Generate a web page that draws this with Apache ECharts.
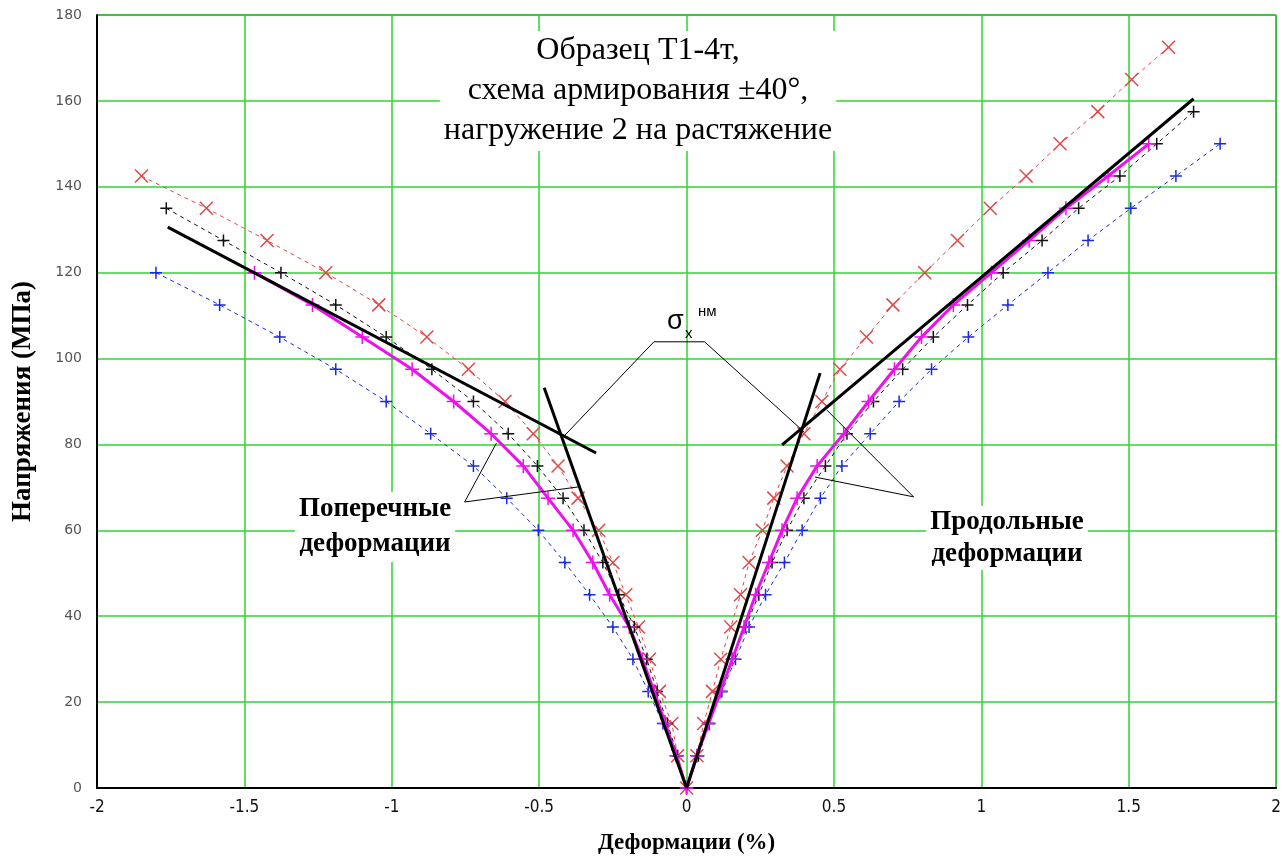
<!DOCTYPE html>
<html><head><meta charset="utf-8">
<script src="https://cdn.jsdelivr.net/npm/echarts@6/dist/echarts.min.js"></script>
<style>html,body{margin:0;padding:0;background:#fff}#c{width:1284px;height:866px}</style>
</head><body><div id="c"></div><script>
// Stress levels (MPa) shared by all measured series, from origin outward
const stress = [7.5,15,22.5,30,37.5,45,52.5,60,67.5,75,82.5,90,97.5,105,112.5,120,127.5,135,142.5,150,157.5,165,172.5];

// Red (x markers) strains, %
const redLeft  = [-0.03,-0.05,-0.092,-0.126,-0.163,-0.206,-0.25,-0.298,-0.368,-0.436,-0.52,-0.616,-0.74,-0.881,-1.044,-1.224,-1.423,-1.629,-1.849];
const redRight = [0.035,0.058,0.088,0.116,0.15,0.183,0.212,0.257,0.296,0.341,0.398,0.459,0.52,0.61,0.70,0.808,0.919,1.03,1.152,1.267,1.395,1.51,1.635];
// Black (+ markers)
const blackLeft  = [-0.03,-0.065,-0.1,-0.135,-0.177,-0.23,-0.284,-0.348,-0.419,-0.506,-0.605,-0.723,-0.864,-1.019,-1.19,-1.376,-1.571,-1.765];
const blackRight = [0.04,0.077,0.116,0.155,0.2,0.245,0.29,0.341,0.398,0.471,0.544,0.634,0.733,0.837,0.953,1.074,1.206,1.33,1.47,1.595,1.72];
// Blue (+ markers)
const blueLeft  = [-0.035,-0.08,-0.13,-0.182,-0.25,-0.329,-0.413,-0.503,-0.61,-0.723,-0.868,-1.019,-1.19,-1.38,-1.584,-1.80];
const blueRight = [0.035,0.075,0.12,0.166,0.212,0.268,0.332,0.392,0.454,0.527,0.623,0.721,0.831,0.956,1.09,1.226,1.362,1.507,1.66,1.81];
// Magenta (mean curve)
const magLeft  = [-0.035,-0.072,-0.11,-0.15,-0.194,-0.261,-0.318,-0.385,-0.47,-0.554,-0.663,-0.79,-0.931,-1.10,-1.269,-1.466];
const magRight = [0.035,0.075,0.115,0.155,0.195,0.234,0.279,0.324,0.375,0.443,0.533,0.617,0.705,0.797,0.905,1.034,1.162,1.287,1.43,1.568];

// Tangent (fit) lines [strain, stress]
const tanLeftUpper  = [[-1.76,130.6],[-0.307,78]];
const tanLeftSteep  = [[-0.483,93.2],[0,0]];
const tanRightSteep = [[0,0],[0.453,96.6]];
const tanRightUpper = [[0.324,79.9],[1.72,160.5]];

// Annotation leader lines [strain, stress]
const sigmaLeader = [[-0.419,81.7],[-0.111,103.9],[0.061,103.9],[0.399,82.9]];
const transLeaderA = [[-0.645,80.3],[-0.753,66.6],[-0.368,70.1]];
const longLeaderA  = [[0.436,72.4],[0.77,67.8],[0.476,88]];

const xTicks = [-2,-1.5,-1,-0.5,0,0.5,1,1.5,2];

function branch(left, right) {
  const out = [];
  for (let i = left.length - 1; i >= 0; i--) out.push([left[i], stress[i]]);
  out.push([0, 0]);
  for (let i = 0; i < right.length; i++) out.push([right[i], stress[i]]);
  return out;
}

const PLUS = 'path://M0,5 L10,5 M5,0 L5,10';
const CROSS = 'path://M0,0 L10,10 M10,0 L0,10';

function measured(name, data, color, symbol, size, dashed, width, z) {
  return {
    name, type: 'line', data, symbol, symbolSize: size, showSymbol: true,
    lineStyle: { color, width, type: dashed ? [4, 4] : 'solid' },
    itemStyle: { color, borderColor: color, borderWidth: 1.5 },
    z, silent: true
  };
}
function plain(data, width) {
  return { type: 'line', data, symbol: 'none', lineStyle: { color: '#000', width }, z: 10, silent: true };
}

const chart = echarts.init(document.getElementById('c'));
const tickFont = '"Liberation Sans Narrow", "DejaVu Sans Condensed", "Liberation Sans", sans-serif';
chart.setOption({
  animation: false,
  backgroundColor: '#fff',
  grid: { left: 97, top: 15, width: 1184, height: 773, show: true, borderColor: '#000', borderWidth: 1 },
  xAxis: {
    type: 'value', min: -2, max: 2, interval: 0.5,
    axisLine: { show: true, onZero: false, lineStyle: { color: '#000', width: 2 } },
    axisTick: { show: false },
    splitLine: { show: true, lineStyle: { color: '#2fd62f', width: 1.5 } },
    axisLabel: { margin: 11, fontSize: 17, color: '#111', fontFamily: tickFont,
      formatter: v => xTicks.includes(v) ? String(v) : '' },
    name: 'Деформации (%)', nameLocation: 'middle', nameGap: 44,
    nameTextStyle: { fontFamily: '"Liberation Serif", serif', fontWeight: 'bold', fontSize: 23, color: '#000' }
  },
  yAxis: {
    type: 'value', min: 0, max: 180, interval: 20,
    axisLine: { show: true, onZero: false, lineStyle: { color: '#000', width: 2 } },
    axisTick: { show: false },
    splitLine: { show: true, lineStyle: { color: '#2fd62f', width: 1.5 } },
    axisLabel: { margin: 15, fontSize: 14, color: '#555', fontFamily: '"DejaVu Sans", sans-serif' },
    name: 'Напряжения (МПа)', nameLocation: 'middle', nameGap: 60, nameRotate: 90,
    nameTextStyle: { fontFamily: '"Liberation Serif", serif', fontWeight: 'bold', fontSize: 27, color: '#000' }
  },
  series: [
    measured('red', branch(redLeft, redRight), '#e04848', CROSS, 13, true, 1, 3),
    measured('black', branch(blackLeft, blackRight), '#111', PLUS, 12, true, 1, 3),
    measured('blue', branch(blueLeft, blueRight), '#1a2ad8', PLUS, 12, true, 1, 3),
    measured('mean', branch(magLeft, magRight), '#ee10ee', PLUS, 14, false, 3, 5),
    plain(tanLeftUpper, 3), plain(tanLeftSteep, 3), plain(tanRightSteep, 3), plain(tanRightUpper, 3),
    plain(sigmaLeader, 1), plain(transLeaderA, 1), plain(longLeaderA, 1)
  ],
  graphic: [
    { type: 'text', z: 100, position: [638, 31], style: {
        text: 'Образец Т1-4т,\nсхема армирования ±40°,\nнагружение 2 на растяжение',
        font: '32px "Liberation Serif", serif', fill: '#000', align: 'center', verticalAlign: 'top',
        lineHeight: 40, backgroundColor: '#fff', padding: [0, 4] } },
    { type: 'text', z: 100, position: [375, 492], style: {
        text: 'Поперечные\nдеформации', font: 'bold 27px "Liberation Serif", serif', fill: '#000',
        align: 'center', verticalAlign: 'top', lineHeight: 35, backgroundColor: '#fff', padding: [0, 4] } },
    { type: 'text', z: 100, position: [1007, 506], style: {
        text: 'Продольные\nдеформации', font: 'bold 27px "Liberation Serif", serif', fill: '#000',
        align: 'center', verticalAlign: 'top', lineHeight: 32, backgroundColor: '#fff', padding: [0, 4] } },
    { type: 'text', z: 100, position: [667, 322], style: {
        text: 'σ', font: '27px "Liberation Sans", sans-serif', fill: '#000', align: 'left', verticalAlign: 'middle' } },
    { type: 'text', z: 100, position: [685, 334], style: {
        text: 'x', font: '15px "Liberation Sans", sans-serif', fill: '#000', align: 'left', verticalAlign: 'middle' } },
    { type: 'text', z: 100, position: [698, 312], style: {
        text: 'нм', font: '15px "Liberation Sans", sans-serif', fill: '#000', align: 'left', verticalAlign: 'middle' } }
  ]
});
</script></body></html>
